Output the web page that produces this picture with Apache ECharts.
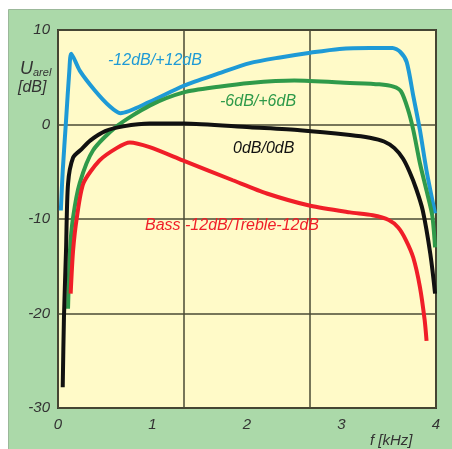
<!DOCTYPE html>
<html><head><meta charset="utf-8">
<script src="https://cdn.jsdelivr.net/npm/echarts@6/dist/echarts.min.js"></script>
<style>html,body{margin:0;padding:0;background:#fff}#c{width:452px;height:449px}</style>
</head><body><div id="c"></div>
<script>
// x in kHz, y in dB
const blue = [[0.03,-9.1],[0.05,-4.9],[0.085,0.4],[0.12,5.7],[0.14,7.5],[0.23,5.7],[0.39,3.6],[0.55,1.9],[0.66,1.2],[0.97,2.4],[1.33,4.1],[1.7,5.4],[2.03,6.5],[2.35,7.1],[2.67,7.6],[2.98,8.0],[3.3,8.1],[3.54,8.1],[3.62,7.7],[3.69,6.6],[3.76,3.0],[3.83,-0.6],[3.90,-4.9],[3.99,-9.4]];
const green = [[0.106,-19.5],[0.127,-13.3],[0.16,-9.8],[0.23,-6.2],[0.37,-2.75],[0.62,-0.2],[0.97,2.0],[1.33,3.4],[1.7,4.0],[2.03,4.4],[2.5,4.65],[3.09,4.4],[3.4,4.25],[3.55,4.0],[3.63,3.5],[3.70,1.7],[3.76,-0.6],[3.83,-4.1],[3.90,-7.0],[3.96,-9.6],[3.99,-13.0]];
const black = [[0.05,-27.8],[0.063,-20.4],[0.085,-13.3],[0.106,-6.3],[0.16,-3.5],[0.25,-2.6],[0.34,-1.7],[0.5,-0.7],[0.69,-0.2],[0.97,0.1],[1.33,0.1],[2.03,-0.3],[2.56,-0.6],[3.09,-1.1],[3.3,-1.4],[3.45,-1.8],[3.56,-2.5],[3.65,-3.6],[3.72,-5.0],[3.79,-6.8],[3.86,-9.1],[3.94,-13.7],[3.99,-17.9]];
const red = [[0.134,-17.9],[0.16,-13.3],[0.2,-9.8],[0.27,-6.2],[0.44,-3.8],[0.62,-2.5],[0.76,-1.9],[0.97,-2.4],[1.32,-3.8],[1.85,-5.9],[2.21,-7.3],[2.67,-8.6],[3.09,-9.3],[3.33,-9.6],[3.5,-10.1],[3.6,-10.9],[3.68,-12.2],[3.76,-14.1],[3.83,-17.2],[3.88,-20.7],[3.90,-22.9]];
const xTicks = [0,1,2,3,4];
const yTicks = [-30,-20,-10,0,10];
const xGridLines = [4/3, 8/3];
const seriesNames = ['-12dB/+12dB','-6dB/+6dB','0dB/0dB','Bass -12dB/Treble-12dB'];

const chart = echarts.init(document.getElementById('c'));
const FONT = 'Liberation Sans';
const mkSeries = (name, data, color) => ({
  name, type:'line', data, xAxisIndex:0, showSymbol:false, smooth:0.25,
  lineStyle:{color, width:4}, itemStyle:{color}, z:5
});
chart.setOption({
  animation:false,
  graphic:[
    {type:'rect', z:-100, shape:{x:8.5,y:9.5,width:450,height:450}, style:{fill:'#abd9a9', stroke:'#9bb89a', lineWidth:1}},
    {type:'text', z:10, left:20, top:60, style:{text:'{u|U}{s|arel}', font:'italic 17px '+FONT, fill:'#333', rich:{u:{font:'italic 18px '+FONT, fill:'#333'}, s:{font:'italic 11px '+FONT, fill:'#333', padding:[8,0,0,0]}}}},
    {type:'text', z:10, left:18, top:80, style:{text:'[dB]', font:'italic 16px '+FONT, fill:'#333'}},
    {type:'text', z:10, left:370, top:433, style:{text:'f [kHz]', font:'italic 15px '+FONT, fill:'#333'}},
    {type:'text', z:10, left:108, top:53, style:{text:seriesNames[0], font:'italic 16px '+FONT, fill:'#1e9ad6'}},
    {type:'text', z:10, left:220, top:94, style:{text:seriesNames[1], font:'italic 16px '+FONT, fill:'#2f9a4a'}},
    {type:'text', z:10, left:233, top:141, style:{text:seriesNames[2], font:'italic 16px '+FONT, fill:'#111'}},
    {type:'text', z:10, left:145, top:218, style:{text:seriesNames[3], font:'italic 16px '+FONT, fill:'#f01e28'}}
  ],
  grid:{left:58, right:16, top:30, bottom:41, show:true, backgroundColor:'#fffac8', borderColor:'#3a3a30', borderWidth:2},
  xAxis:[
    {type:'value', min:xTicks[0], max:xTicks[xTicks.length-1], interval:1, position:'bottom',
     axisLine:{show:false}, axisTick:{show:false}, splitLine:{show:false},
     axisLabel:{fontFamily:FONT, fontStyle:'italic', fontSize:15, color:'#333', margin:9}},
    {type:'value', min:0, max:4, interval:xGridLines[0], position:'bottom',
     axisLine:{show:false}, axisTick:{show:false}, axisLabel:{show:false},
     splitLine:{show:true, lineStyle:{color:'#4a4a35', width:1.5}}}
  ],
  yAxis:{type:'value', min:yTicks[0], max:yTicks[yTicks.length-1], interval:10,
     axisLine:{show:false}, axisTick:{show:false},
     splitLine:{show:true, lineStyle:{color:'#4a4a35', width:1.5}},
     axisLabel:{fontFamily:FONT, fontStyle:'italic', fontSize:15, color:'#333', margin:8}},
  series:[
    mkSeries(seriesNames[0], blue, '#1e9ad6'),
    mkSeries(seriesNames[1], green, '#2f9a4a'),
    mkSeries(seriesNames[2], black, '#111111'),
    mkSeries(seriesNames[3], red, '#f01e28')
  ]
});
</script></body></html>
